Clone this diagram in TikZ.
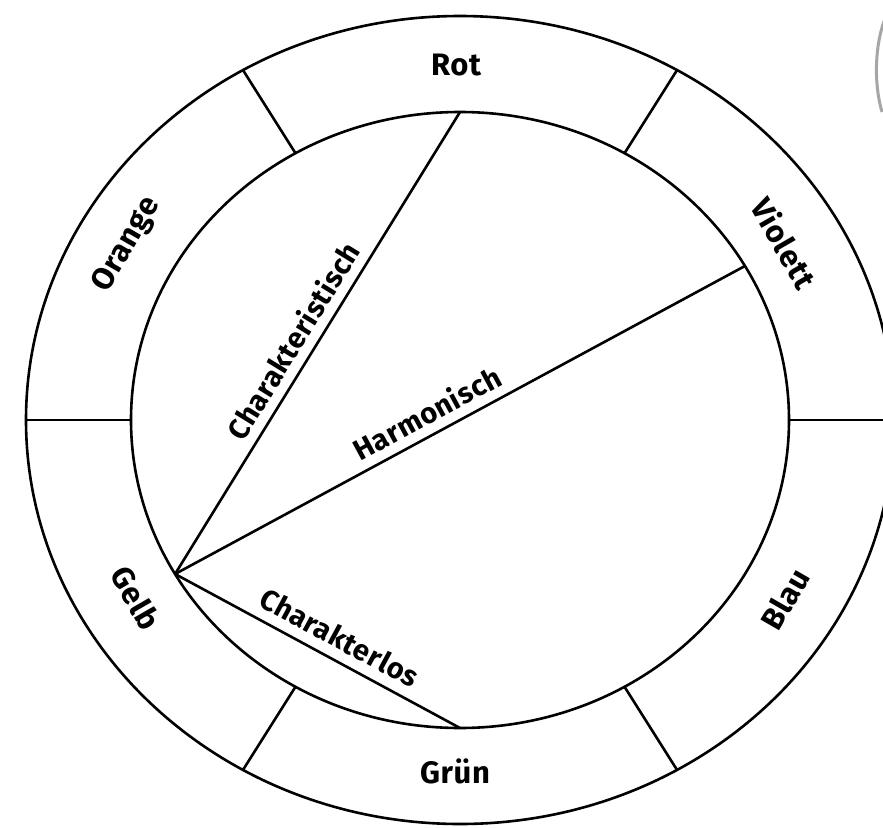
\documentclass[tikz,border=0pt]{standalone}
\usepackage{fontspec}
\newfontfamily\labfont{Fira Sans}[LetterSpace=2]
\begin{document}
\begin{tikzpicture}[x=1pt,y=-1pt,
  ring/.style={line width=2.6pt, black},
  lab/.style={font=\labfont\bfseries\fontsize{31}{31}\selectfont, inner sep=0pt},
  chordlab/.style={font=\labfont\bfseries\fontsize{29}{29}\selectfont, inner sep=0pt, sloped}]
\useasboundingbox (0,0) rectangle (883,827);
\clip (0,0) rectangle (883,827);
\fill[white] (0,0) rectangle (883,827);
\coordinate (O) at (460,420);
% ellipses (circles, scanned slightly stretched)
\draw[ring] (O) ellipse [x radius=434pt, y radius=404pt];
\draw[ring] (O) ellipse [x radius=329pt, y radius=308pt];
% separators
\begin{scope}[shift={(460,420)}]
  \foreach \a/\n in {0/a,-60/b,-120/c,-180/d,-240/e,-300/f}{
    \coordinate (in\n) at (\a:329 and 308);
    \coordinate (out\n) at (\a:434 and 404);
    \draw[ring] (in\n) -- (out\n);
  }
  \coordinate (R) at (-90:329 and 308);
  \coordinate (V) at (-30:329 and 308);
  \coordinate (G) at (-210:329 and 308);
  \coordinate (Gr) at (-270:329 and 308);
\end{scope}
% chords
\draw[ring] (G) -- node[chordlab, above=9pt, pos=0.48] {Charakteristisch} (R);
\draw[ring] (G) -- node[chordlab, above=9pt, pos=0.46] {Harmonisch} (V);
\draw[ring] (G) -- node[chordlab, above=10pt, pos=0.54] {Charakterlos} (Gr);
% ring labels
\node[lab] (rot) at (456,65) {Rot};
\node[lab, rotate=60] (orange) at (127,245) {Orange};
\node[lab, rotate=-60] (violett) at (785,243) {Violett};
\node[lab, rotate=-60] (gelb) at (136,598) {Gelb};
\node[lab, rotate=60] (blau) at (785,599) {Blau};
\node[lab] (gruen) at (455,771) {Grün};
% scan artefact at top right
\draw[gray!70, line width=3pt] (886,16) .. controls (874,45) and (874,85) .. (882,112);
\fill[white] (875,272) rectangle (883,282);
\end{tikzpicture}
\end{document}
